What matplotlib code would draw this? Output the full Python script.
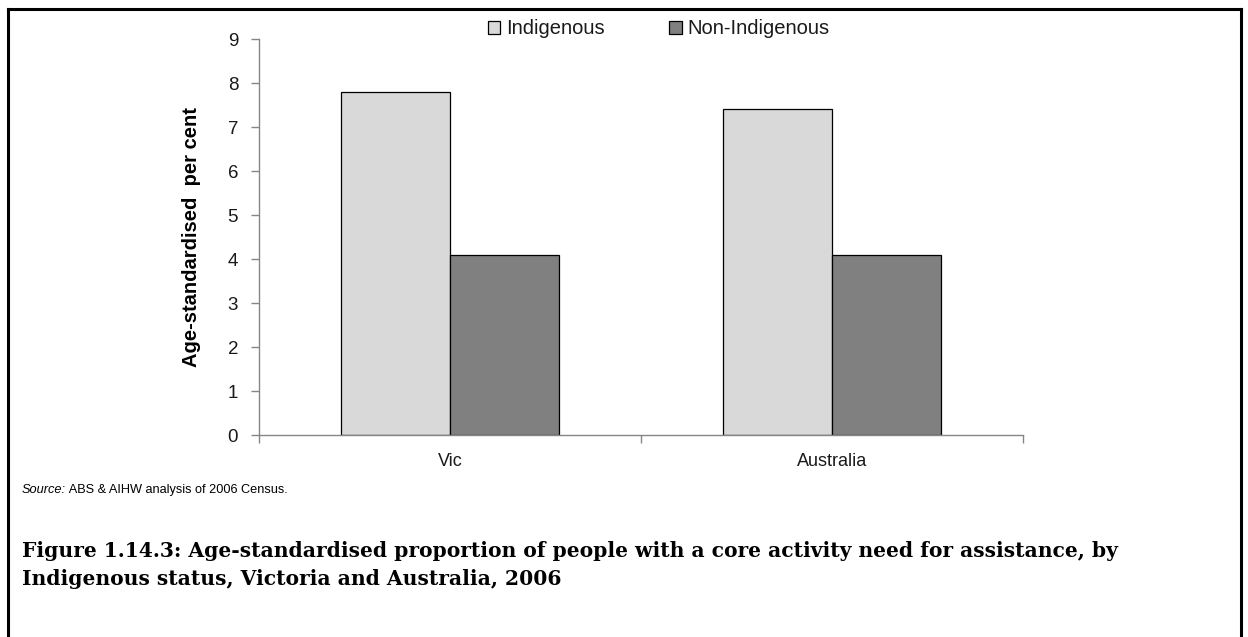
import matplotlib
matplotlib.use("Agg")
import matplotlib.pyplot as plt
from matplotlib.lines import Line2D
from matplotlib.patches import Patch
import numpy as np

# Data: age-standardised per cent with a core activity need for assistance
regions = ["Vic", "Australia"]
indigenous = [7.8, 7.4]
non_indigenous = [4.1, 4.1]
series_names = ["Indigenous", "Non-Indigenous"]
y_ticks = list(range(0, 10))

COLOR_INDIG = "#D9D9D9"
COLOR_NON = "#808080"
AXIS_GREY = "#868686"

W, H, DPI = 1248, 637, 100
plt.rcParams["font.family"] = ["Liberation Sans", "DejaVu Sans"]

fig = plt.figure(figsize=(W / DPI, H / DPI), dpi=DPI)
fig.patch.set_facecolor("white")

# plot area in pixel terms
ax_left, ax_right, ax_top, ax_bottom = 259, 1023, 39, 435
ax = fig.add_axes([ax_left / W, 1 - ax_bottom / H,
                   (ax_right - ax_left) / W, (ax_bottom - ax_top) / H])

x = np.arange(len(regions))
bw = 0.2866
ax.bar(x - bw / 2, indigenous, bw, color=COLOR_INDIG, edgecolor="black",
       linewidth=0.9, label=series_names[0], zorder=2)
ax.bar(x + bw / 2, non_indigenous, bw, color=COLOR_NON, edgecolor="black",
       linewidth=0.9, label=series_names[1], zorder=2)

ax.set_xlim(-0.5, len(regions) - 0.5)
ax.set_ylim(0, 9)

for side in ("top", "right"):
    ax.spines[side].set_visible(False)
for side in ("left", "bottom"):
    ax.spines[side].set_color(AXIS_GREY)
    ax.spines[side].set_linewidth(1.0)

ax.set_yticks(y_ticks)
ax.tick_params(axis="y", direction="out", length=6, width=1.0,
               color=AXIS_GREY, labelsize=13.5, pad=9, labelcolor="#1a1a1a")

# category boundaries get tick marks, labels sit on minor ticks
ax.set_xticks(np.arange(-0.5, len(regions), 1.0))
ax.set_xticklabels([])
ax.set_xticks(x, minor=True)
ax.set_xticklabels(regions, minor=True)
ax.tick_params(axis="x", which="major", direction="out", length=6,
               width=1.0, color=AXIS_GREY)
ax.tick_params(axis="x", which="minor", length=0, labelsize=13, pad=13,
               labelcolor="#1a1a1a")

ax.set_ylabel("Age-standardised  per cent", fontsize=14.5, fontweight="bold",
              labelpad=19)

handles = [Patch(facecolor=COLOR_INDIG, edgecolor="black", linewidth=0.9),
           Patch(facecolor=COLOR_NON, edgecolor="black", linewidth=0.9)]
fig.legend(handles, series_names, loc="center",
           bbox_to_anchor=(659 / W, 1 - 29 / H), ncol=2, frameon=False,
           fontsize=14.5, handlelength=0.6, handleheight=0.6,
           handletextpad=0.3, columnspacing=3.2, labelcolor="#1a1a1a")

# source note
src = fig.text(22 / W, 1 - 490 / H, "Source:", fontsize=9.2, style="italic",
               va="center", ha="left")
ax.annotate(" ABS & AIHW analysis of 2006 Census.", xy=(1, 0),
            xycoords=src, va="bottom", ha="left", fontsize=9.2)

# figure caption
fig.text(22 / W, 1 - 565 / H,
         "Figure 1.14.3: Age-standardised proportion of people with a core "
         "activity need for assistance, by\n"
         "Indigenous status, Victoria and Australia, 2006",
         fontsize=14.6, fontweight="bold", va="center", ha="left",
         family=["DejaVu Serif"], linespacing=1.45)

# frame round the figure (open at the bottom)
lw = 2.2
fig.add_artist(Line2D([8 / W, 8 / W], [0, 1 - 9 / H], transform=fig.transFigure,
                      color="black", linewidth=lw))
fig.add_artist(Line2D([8 / W, 1241 / W], [1 - 9 / H, 1 - 9 / H],
                      transform=fig.transFigure, color="black", linewidth=lw,
                      solid_capstyle="projecting"))
fig.add_artist(Line2D([1241 / W, 1241 / W], [0, 1 - 9 / H],
                      transform=fig.transFigure, color="black", linewidth=lw))

fig.savefig("out.png", dpi=DPI, facecolor="white")
